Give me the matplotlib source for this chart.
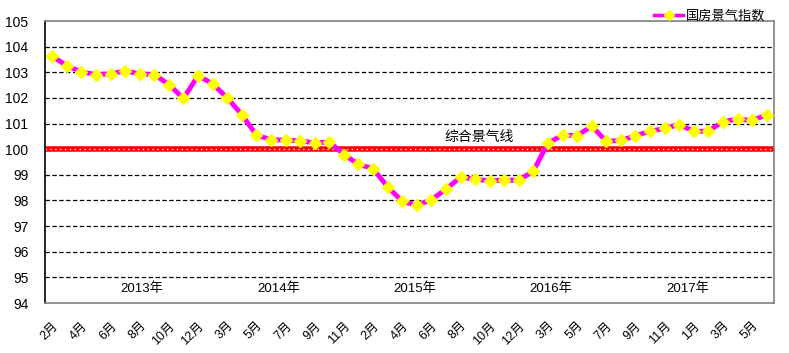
import numpy as np
import matplotlib
matplotlib.use("Agg")
import matplotlib.pyplot as plt

plt.rcParams['font.family'] = ['Liberation Sans', 'Noto Sans CJK SC', 'DejaVu Sans']

# monthly months shown on the axis (Jan/Feb merged, so each year starts at 2月)
months = (list(range(2, 13)) + list(range(2, 13)) + list(range(2, 13))
          + list(range(2, 13)) + list(range(1, 7)))
index_vals = [103.63, 103.25, 103.02, 102.91, 102.94, 103.05, 102.94, 102.91, 102.52, 101.98,
              102.87, 102.55, 102.00, 101.35, 100.55, 100.37, 100.35, 100.33, 100.24, 100.29,
              99.79, 99.41, 99.24, 98.53, 97.97, 97.81, 98.03, 98.44, 98.91, 98.82,
              98.77, 98.79, 98.79, 99.15, 100.24, 100.55, 100.53, 100.90, 100.31, 100.34,
              100.53, 100.70, 100.81, 100.96, 100.70, 100.70, 101.08, 101.17, 101.12, 101.34]
years = ["2013年", "2014年", "2015年", "2016年", "2017年"]
baseline = 100
series_name = "国房景气指数"
baseline_name = "综合景气线"

x = np.arange(len(index_vals))

fig = plt.figure(figsize=(7.89, 3.53), dpi=100)
ax = fig.add_axes([0.057, 0.1416, 0.924, 0.7989])

# grid
for g in range(95, 105):
    if g != baseline:
        ax.axhline(g, color='black', lw=0.9, ls=(0, (3.5, 2)), zorder=1)

# baseline (red with white dots)
ax.axhline(baseline, color='#FF0000', lw=4, zorder=2)
ax.axhline(baseline, color='white', lw=1.0, ls=(0, (1, 2.5)), zorder=2)
ax.text(29.3, baseline + 0.2, baseline_name, ha='center', va='bottom', fontsize=10, zorder=3)

ax.plot(x, index_vals, color='#FF00FF', lw=3.5, marker='D', markersize=6.5,
        markerfacecolor='#FFFF00', markeredgecolor='#FFFF00', zorder=4)
# legend handle: thinner line, smaller marker
ax.plot([], [], color='#FF00FF', lw=2.5, marker='D', markersize=5,
        markerfacecolor='#FFFF00', markeredgecolor='#FFFF00', label=series_name)

ax.set_xlim(-0.5, len(index_vals) - 0.5)
ax.set_ylim(94, 105)
ax.set_yticks(range(94, 106))
ax.tick_params(axis='y', length=0, pad=12, labelsize=10)

ax.set_xticks(x[::2])
ax.set_xticklabels([f"{m}月" for m in months[::2]], rotation=45, ha='right', va='top',
                   rotation_mode='anchor', fontsize=9)
ax.tick_params(axis='x', length=0, pad=12)

for i, yr in enumerate(years):
    ax.text(0.133 + i * 0.187, 0.05, yr, transform=ax.transAxes, ha='center', va='center', fontsize=9.5)

ax.spines['left'].set_color('black')
for s in ['top', 'right', 'bottom']:
    ax.spines[s].set_color('#808080')
for s in ax.spines.values():
    s.set_linewidth(1.2)

ax.legend(loc='lower right', bbox_to_anchor=(0.99, 0.99), frameon=False, fontsize=9.5,
          handlelength=2.2, handletextpad=0.2, borderpad=0.1, borderaxespad=0)

fig.savefig("out.png", dpi=100)
